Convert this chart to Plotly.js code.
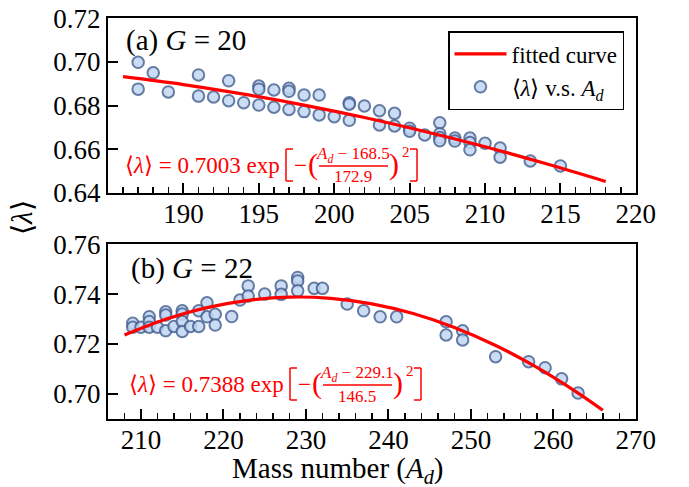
<!DOCTYPE html>
<html><head><meta charset="utf-8">
<script src="https://cdn.plot.ly/plotly-3.0.1.min.js"></script>
<style>body{margin:0;background:#fff}#chart{width:689px;height:487px}</style>
</head><body><div id="chart"></div>
<script>
// ---- data ----
// panel (a) G = 20
const massA = [187,187,188,189,191,191,192,193,193,194,195,195,195,196,196,197,197,197,198,198,199,199,200,201,201,201,202,203,203,204,204,205,205,206,207,207,207,207,208,208,209,209,209,210,211,211,213,215];
const lamA  = [0.6998,0.6875,0.6950,0.6862,0.6940,0.6843,0.6839,0.6913,0.6822,0.6813,0.6889,0.6875,0.6802,0.6871,0.6792,0.6879,0.6865,0.6782,0.6848,0.6772,0.6848,0.6757,0.6749,0.6813,0.6806,0.6732,0.6798,0.6776,0.6711,0.6764,0.6706,0.6696,0.6682,0.6665,0.6721,0.6671,0.6653,0.6639,0.6651,0.6637,0.6651,0.6630,0.6597,0.6627,0.6605,0.6563,0.6546,0.6523];
const fitMassA = [186,190,194,198,202,206,210,214,218];
const fitLamA  = [0.6932,0.6896,0.6852,0.6802,0.6745,0.6681,0.6611,0.6534,0.6452];
// panel (b) G = 22
const massB = [209,209,210,211,211,211,212,213,213,213,214,215,215,215,215,216,217,217,218,218,219,219,221,222,223,223,225,227,227,229,229,229,231,232,235,237,239,241,247,247,249,249,253,257,259,261,263];
const lamB  = [0.7283,0.7267,0.7267,0.7309,0.7290,0.7267,0.7267,0.7329,0.7316,0.7253,0.7270,0.7333,0.7320,0.7290,0.7250,0.7270,0.7333,0.7270,0.7365,0.7309,0.7319,0.7276,0.7310,0.7376,0.7433,0.7392,0.7400,0.7433,0.7399,0.7467,0.7453,0.7413,0.7423,0.7423,0.7360,0.7333,0.7309,0.7309,0.7289,0.7236,0.7253,0.7216,0.7149,0.7129,0.7105,0.7060,0.7003];
const fitMassB = [208,213,218,223,228,233,238,243,248,253,258,263,266];
const fitLamB  = [0.7236,0.7299,0.7346,0.7375,0.7388,0.7383,0.7361,0.7322,0.7266,0.7194,0.7106,0.7003,0.6934];
const ticksA = [190,195,200,205,210,215,220];
const ticksB = [210,220,230,240,250,260,270];
const yTicksA = [0.64,0.66,0.68,0.70,0.72];
const yTicksB = [0.70,0.72,0.74,0.76];
const legendNames = ['fitted curve', '⟨<i>λ</i>⟩ v.s. <i>A<sub>d</sub></i>'];

// ---- styling ----
const FONT = '"Liberation Serif", "Times New Roman", Times, serif';
const RED = '#ff0000';
const W = 689, H = 487, L = 108, R = 53, T = 18, B = 68;
const PW = W - L - R, PH = H - T - B;
const px = v => (v - L) / PW;
const py = v => (H - B - v) / PH;

const marker = {symbol:'circle', size:11.5, color:'#c3d7f4', opacity:0.85, line:{color:'#4a6594', width:2}};

const traces = [
  {x:massA, y:lamA, xaxis:'x', yaxis:'y', mode:'markers', type:'scatter', name:legendNames[1], marker:marker, legendrank:2, showlegend:true},
  {x:fitMassA, y:fitLamA, xaxis:'x', yaxis:'y', mode:'lines', type:'scatter', name:legendNames[0], line:{color:RED, width:3.2, shape:'spline'}, legendrank:1, showlegend:true},
  {x:massB, y:lamB, xaxis:'x2', yaxis:'y2', mode:'markers', type:'scatter', marker:marker, showlegend:false},
  {x:fitMassB, y:fitLamB, xaxis:'x2', yaxis:'y2', mode:'lines', type:'scatter', line:{color:RED, width:3.2, shape:'spline'}, showlegend:false}
];

function xax(range, ticks, minorStep, anchor){
  return {range:range, anchor:anchor, tickvals:ticks, ticks:'inside', ticklen:10, tickwidth:2, tickcolor:'#000',
    minor:{dtick:minorStep, ticks:'inside', ticklen:6, tickwidth:1.5, tickcolor:'#000'},
    showline:true, linecolor:'#000', linewidth:2, mirror:true, showgrid:false, zeroline:false,
    ticklabelstandoff:-4,
    tickfont:{family:FONT, size:27, color:'#000'}};
}
function yax(range, ticks, domain, anchor){
  return {range:range, domain:domain, anchor:anchor, tickvals:ticks, tickformat:'.2f', ticks:'inside', ticklen:10, tickwidth:2, tickcolor:'#000',
    showline:true, linecolor:'#000', linewidth:2, mirror:true, showgrid:false, zeroline:false,
    tickfont:{family:FONT, size:27, color:'#000'}};
}

const txt = (text, x, y, size, color, anchor) => ({text:text, x:px(x), y:py(y), xref:'paper', yref:'paper', showarrow:false,
  xanchor:anchor||'center', yanchor:'middle', font:{family:FONT, size:size, color:color||'#000'}});

function formula(coef, num, den, x0, yc){
  return [
    txt('⟨<i>λ</i>⟩ = ' + coef + ' exp', x0, yc, 23, RED, 'left'),
    txt('−', x0 + 177, yc, 23, RED),
    txt('(', x0 + 190, yc - 1, 30, RED),
    txt('<i>A<sub>d</sub></i> − ' + num, x0 + 230, yc - 10, 17, RED),
    txt(den, x0 + 230, yc + 12, 17, RED),
    txt(')', x0 + 271, yc - 1, 30, RED),
    txt('2', x0 + 283, yc - 13, 15, RED)
  ];
}
function formulaShapes(x0, yc){
  const ln = (xa, ya, xb, yb) => ({type:'line', xref:'paper', yref:'paper', x0:px(xa), y0:py(ya), x1:px(xb), y1:py(yb), line:{color:RED, width:1.5}});
  return [
    ln(x0+163, yc-16, x0+163, yc+16), ln(x0+163, yc-16, x0+170, yc-16), ln(x0+163, yc+16, x0+170, yc+16),
    ln(x0+196, yc+1, x0+265, yc+1),
    ln(x0+294, yc-16, x0+294, yc+16), ln(x0+287, yc-16, x0+294, yc-16), ln(x0+287, yc+16, x0+294, yc+16)
  ];
}

const annotations = [
  txt('(a) <i>G</i> = 20', 124, 40, 29, '#000', 'left'),
  txt('(b) <i>G</i> = 22', 129, 268, 29, '#000', 'left'),
  txt('Mass number (<i>A<sub>d</sub></i>)', 338, 470, 29, '#000'),
  Object.assign(txt('⟨<i>λ</i>⟩', 22, 218, 29, '#000'), {textangle:-90})
].concat(formula('0.7003', '168.5', '172.9', 123, 165))
 .concat(formula('0.7388', '229.1', '146.5', 127, 384));

const shapes = formulaShapes(123, 165).concat(formulaShapes(127, 384));

const layout = {
  width:W, height:H, margin:{l:L, r:R, t:T, b:B}, paper_bgcolor:'#fff', plot_bgcolor:'#fff',
  font:{family:FONT, color:'#000'},
  xaxis: xax([185, 220.01], ticksA, 1, 'y'),
  yaxis: yax([0.6399, 0.7201], yTicksA, [(H-B-193)/PH, 1], 'x'),
  xaxis2: xax([206, 270.02], ticksB, 2, 'y2'),
  yaxis2: yax([0.6899, 0.7601], yTicksB, [0, (H-B-244)/PH], 'x2'),
  showlegend:true,
  legend:{x:px(624), y:py(31), xanchor:'right', yanchor:'top', bgcolor:'#fff', bordercolor:'#000', borderwidth:1.5,
    font:{family:FONT, size:23, color:'#000'}, tracegroupgap:0, itemwidth:52},
  annotations:annotations, shapes:shapes
};

Plotly.newPlot('chart', traces, layout, {staticPlot:true, displayModeBar:false});
</script></body></html>
